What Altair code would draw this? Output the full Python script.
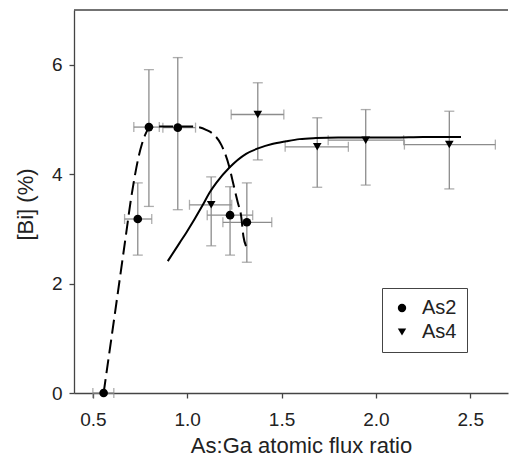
import altair as alt
import pandas as pd

# ---- data ----
as2_x = [0.557, 0.738, 0.797, 0.950, 1.227, 1.316]
as2_y = [0.0, 3.18, 4.86, 4.85, 3.25, 3.12]
as2_ylo = [0.0, 2.52, 3.41, 3.35, 2.52, 2.39]
as2_yhi = [0.0, 3.84, 5.91, 6.13, 3.77, 3.84]
as2_xlo = [0.500, 0.668, 0.717, 0.871, 1.106, 1.189]
as2_xhi = [0.611, 0.812, 0.852, 1.044, 1.347, 1.448]

as4_x = [1.127, 1.374, 1.689, 1.946, 2.389]
as4_y = [3.44, 5.09, 4.50, 4.62, 4.54]
as4_ylo = [2.69, 4.26, 3.76, 3.80, 3.73]
as4_yhi = [3.95, 5.67, 5.03, 5.18, 5.15]
as4_xlo = [1.012, 1.233, 1.519, 1.747, 2.151]
as4_xhi = [1.236, 1.512, 1.854, 2.147, 2.633]

# fitted guide curves
dash_x = [0.557, 0.677, 0.70, 0.72, 0.74, 0.76, 0.78, 0.80, 0.85, 0.95, 1.03,
          1.10, 1.145, 1.18, 1.224, 1.241, 1.268, 1.286, 1.298, 1.312]
dash_y = [0.0, 2.93, 3.50, 3.92, 4.28, 4.55, 4.74, 4.85, 4.87, 4.87, 4.87,
          4.81, 4.71, 4.54, 4.12, 3.87, 3.48, 3.23, 2.86, 2.68]

solid_x = [0.897, 0.959, 0.995, 1.083, 1.118, 1.154, 1.224, 1.312, 1.383, 1.45,
           1.524, 1.595, 1.683, 1.80, 1.944, 2.10, 2.25, 2.451]
solid_y = [2.41, 2.74, 2.93, 3.44, 3.66, 3.84, 4.12, 4.37, 4.48, 4.55,
           4.60, 4.64, 4.66, 4.67, 4.67, 4.67, 4.68, 4.68]

x_ticks = [0.5, 1.0, 1.5, 2.0, 2.5]
y_ticks = [0, 2, 4, 6]
x_domain = [0.4, 2.7]
y_domain = [0, 7]

FONT = "Liberation Sans"
ERR = "#8c8c8c"

pts = pd.DataFrame({
    "x": as2_x + as4_x,
    "y": as2_y + as4_y,
    "ylo": as2_ylo + as4_ylo,
    "yhi": as2_yhi + as4_yhi,
    "xlo": as2_xlo + as4_xlo,
    "xhi": as2_xhi + as4_xhi,
    "series": ["As2"] * len(as2_x) + ["As4"] * len(as4_x),
})
vpts = pts[pts["yhi"] > pts["ylo"]]

dash_df = pd.DataFrame({"x": dash_x, "y": dash_y, "i": range(len(dash_x))})
solid_df = pd.DataFrame({"x": solid_x, "y": solid_y, "i": range(len(solid_x))})

xscale = alt.Scale(domain=x_domain, nice=False, zero=False)
yscale = alt.Scale(domain=y_domain, nice=False)
xaxis = alt.Axis(values=x_ticks, format=".1f", title="As:Ga atomic flux ratio",
                 titleX=227, titleY=59, titleBaseline="alphabetic",
                 titleAlign="center", labelPadding=12)
yaxis = alt.Axis(values=y_ticks, format="d", title="[Bi] (%)",
                 titleX=-42, titleY=194, titleAngle=270,
                 titleBaseline="alphabetic", titleAlign="center",
                 labelPadding=7)


def X(f):
    return alt.X(f, type="quantitative", scale=xscale, axis=xaxis)


def Y(f):
    return alt.Y(f, type="quantitative", scale=yscale, axis=yaxis)


base = alt.Chart(pts)

vrule = alt.Chart(vpts).mark_rule(color=ERR, strokeWidth=1.3).encode(
    x=X("x"), y=Y("ylo"), y2="yhi:Q")
vcap_lo = alt.Chart(vpts).mark_tick(color=ERR, orient="horizontal", size=10, thickness=1.3).encode(
    x=X("x"), y=Y("ylo"))
vcap_hi = alt.Chart(vpts).mark_tick(color=ERR, orient="horizontal", size=10, thickness=1.3).encode(
    x=X("x"), y=Y("yhi"))
hrule = base.mark_rule(color=ERR, strokeWidth=1.3).encode(
    x=X("xlo"), x2="xhi:Q", y=Y("y"))
hcap_lo = base.mark_tick(color=ERR, orient="vertical", size=10, thickness=1.3).encode(
    x=X("xlo"), y=Y("y"))
hcap_hi = base.mark_tick(color=ERR, orient="vertical", size=10, thickness=1.3).encode(
    x=X("xhi"), y=Y("y"))

dash_line = alt.Chart(dash_df).mark_line(color="black", strokeWidth=2,
                                         strokeDash=[14, 6],
                                         interpolate="monotone").encode(
    x=X("x"), y=Y("y"), order="i:Q")
solid_line = alt.Chart(solid_df).mark_line(color="black", strokeWidth=2,
                                           interpolate="monotone").encode(
    x=X("x"), y=Y("y"), order="i:Q")

points = base.mark_point(filled=True, color="black", opacity=1, size=75).encode(
    x=X("x"), y=Y("y"),
    shape=alt.Shape("series:N",
                    scale=alt.Scale(domain=["As2", "As4"],
                                    range=["circle", "triangle-down"]),
                    legend=alt.Legend(title=None, orient="none", legendX=308,
                                      legendY=278, padding=10,
                                      strokeColor="#444", fillColor="white",
                                      symbolFillColor="black",
                                      symbolStrokeColor="black",
                                      symbolSize=70, labelFontSize=20,
                                      labelFont=FONT, labelColor="#222",
                                      labelOffset=10, rowPadding=4)))

frame_df = pd.DataFrame({"a": [x_domain[0]], "b": [x_domain[1]], "c": [y_domain[1]]})
top_line = alt.Chart(frame_df).mark_rule(color="#444", strokeWidth=1.3).encode(
    x=X("a"), x2="b:Q", y=Y("c"))

chart = alt.layer(vrule, vcap_lo, vcap_hi, hrule, hcap_lo, hcap_hi,
                  dash_line, solid_line, points, top_line).properties(
    width=434, height=383,
    autosize=alt.AutoSizeParams(type="none"),
    padding={"left": 66, "top": 2, "right": 1, "bottom": 64},
).configure_view(stroke=None).configure_axis(
    grid=False, domainColor="#444", domainWidth=1.3, tickColor="#444",
    tickWidth=1.3, tickSize=5, labelFont=FONT, labelFontSize=19,
    labelColor="#222", titleFont=FONT, titleFontSize=22, titleColor="#222",
    titleFontWeight="normal")

chart.save("out.html", embed_options={"renderer": "svg", "actions": False})
